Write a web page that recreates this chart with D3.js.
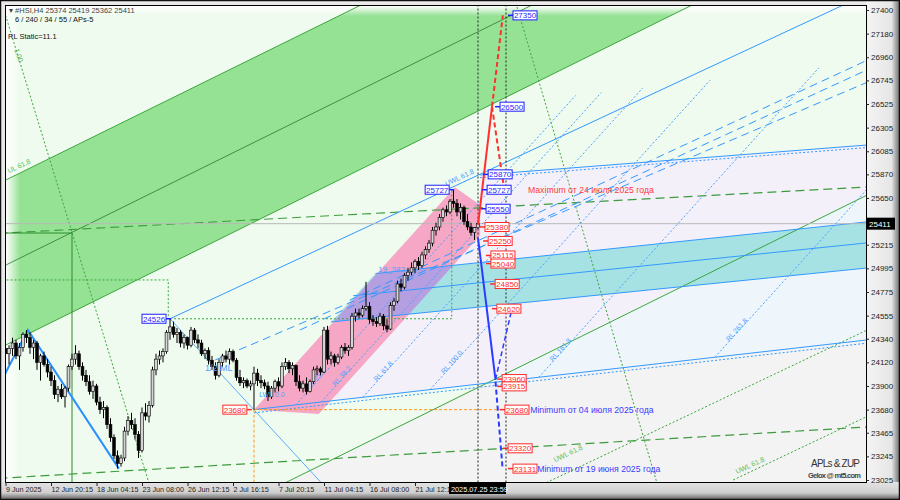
<!DOCTYPE html>
<html><head><meta charset="utf-8">
<script src="https://cdn.jsdelivr.net/npm/d3@7"></script>
<style>body{margin:0;background:#fff}svg{display:block}text{font-family:"Liberation Sans",Arial,sans-serif}</style>
</head><body>
<svg id="c" width="900" height="500"></svg>
<script>
// ---------- DATA ----------
const opens=[24250,24200,24250,24300,24180,24260,24380,24350,24260,24300,
24120,24180,24100,24030,23950,23820,23870,23800,23880,24080,
24150,24200,24080,24000,23940,23850,23900,23750,23680,23700,
23540,23420,23250,23180,23230,23480,23580,23540,23450,23300,
23650,23620,23720,24050,24150,24180,24220,24400,24450,24380,
24400,24300,24350,24280,24420,24330,24300,24200,24230,24140,
24080,24000,24120,24180,24150,24220,24140,23980,23930,23950,
23900,23920,24020,23950,23930,23900,23800,23880,23940,23900,
24080,24120,24060,24090,23940,23880,23920,23850,23940,24050,
24060,24030,24420,24150,24180,24120,24170,24260,24230,24260,
24550,24580,24560,24620,24640,24520,24500,24480,24550,24460,
24430,24650,24690,24850,24820,24930,24960,25000,25060,25020,
25120,25170,25230,25350,25380,25470,25540,25520,25620,25600,
25520,25560,25430,25380,25330,25374];
const highs=[24320,24280,24350,24330,24300,24400,24421,24400,24330,24320,
24200,24220,24150,24080,24000,23900,23920,23900,24100,24200,
24280,24230,24120,24050,24000,23950,23920,23800,23760,23720,
23600,23450,23300,23260,23520,23620,23650,23600,23480,23700,
23740,23760,24080,24200,24230,24250,24420,24526,24500,24440,
24420,24380,24360,24450,24440,24380,24330,24250,24260,24180,
24120,24150,24200,24230,24250,24240,24160,24050,23980,23970,
23950,24080,24060,24000,23960,23940,23900,23960,23980,24120,
24160,24140,24120,24100,24000,23950,23980,23960,24080,24090,
24080,24450,24460,24220,24200,24200,24280,24300,24280,24580,
24620,24620,24650,24870,24680,24560,24540,24580,24570,24520,
24680,24720,24880,24900,24950,25000,25050,25080,25100,25150,
25200,25260,25380,25420,25500,25560,25580,25640,25727,25640,
25600,25580,25500,25420,25380,25419];
const lows=[24150,24100,24180,24150,24050,24220,24300,24200,24150,24050,
23950,24080,23980,23900,23780,23750,23780,23700,23850,24050,
24100,24050,23950,23900,23820,23780,23720,23640,23600,23500,
23380,23220,23131,23150,23200,23440,23500,23400,23230,23280,
23580,23560,23700,24000,24100,24120,24200,24330,24350,24300,
24260,24250,24240,24260,24300,24250,24180,24150,24100,24050,
23960,23980,24080,24120,24100,24120,23950,23900,23880,23880,
23860,23680,23900,23880,23870,23760,23780,23840,23850,23880,
24050,24020,24000,23900,23850,23840,23820,23840,23920,24000,
24000,24020,24100,24100,24080,24100,24150,24200,24180,24240,
24500,24530,24540,24600,24480,24460,24450,24460,24420,24400,
24420,24600,24670,24780,24800,24880,24930,24950,24980,25000,
25080,25140,25200,25300,25350,25430,25480,25500,25560,25480,
25450,25400,25350,25300,25260,25362];
const closes=[24200,24250,24300,24180,24260,24380,24350,24260,24300,24120,
24180,24100,24030,23950,23820,23870,23800,23880,24080,24150,
24200,24080,24000,23940,23850,23900,23750,23680,23700,23540,
23420,23250,23180,23230,23480,23580,23540,23450,23300,23650,
23620,23720,24050,24150,24180,24220,24400,24450,24380,24400,
24300,24350,24280,24420,24330,24300,24200,24230,24140,24080,
24000,24120,24180,24150,24220,24140,23980,23930,23950,23900,
23920,24020,23950,23930,23900,23800,23880,23940,23900,24080,
24120,24060,24090,23940,23880,23920,23850,23940,24050,24060,
24030,24420,24150,24180,24120,24170,24260,24230,24260,24550,
24580,24560,24620,24640,24520,24500,24480,24550,24460,24430,
24650,24690,24850,24820,24930,24960,25000,25060,25020,25120,
25170,25230,25350,25380,25470,25540,25520,25620,25600,25520,
25560,25430,25380,25330,25374,25411];

const timeIdx=[0,13,26,39,52,65,78,91,104,117];
const timeText=["9 Jun 2025","12 Jun 20:15","18 Jun 04:15","23 Jun 08:00","26 Jun 12:15","2 Jul 16:15","7 Jul 20:15","11 Jul 04:15","16 Jul 08:00","21 Jul 12:15"];
const priceTicks=[23025,23245,23465,23680,23900,24120,24340,24555,24775,24995,25215,25650,25870,26085,26305,26525,26745,26960,27180,27400];
const lastPrice=25411;
const header="#HSI,H4  25374 25419 25362 25411";

const boxVals=[27350,26500,25870,25727,25550,25727,24526,25380,25250,25115,25040,24850,24620,23960,23915,23680,23320,23131,23680];
const boxIdx =[145,141.3,137.9,137.6,137.3,119.9,39,137,137.9,138.7,138.7,139.9,140.4,141.9,141.9,142.7,143.6,145,62.1];
const boxKind=["b","b","b","b","b","b","b","r","r","r","r","r","r","r","r","r","r","r","r"];
const boxNudge=[0,0,0,0,0,0,0,0,0,0,0,0,0,-0.5,2,0,0,0,0];

const notes=[{t:"Maximum от 24 июля 2025 года",i:149.3,p:25727,c:"#ff3b3b"},
             {t:"Minimum от 04 июля 2025 года",i:149.9,p:23680,c:"#3b3bff"},
             {t:"Minimum от 19 июня 2025 года",i:151.9,p:23131,c:"#3b3bff"}];

const greenBand=[[-2,25784],[110,27582],[200,27508],[-2,24248]];
const lavender=[[91.8,23758],[136.4,23922],[250,25739],[250,26153],[135.6,25864],[135.6,25324]];
const lightBlue=[[136.4,23922],[250,24343],[250,25739]];
const greyZone=[[136.4,23922],[250,24343],[250,22800],[67.5,22800]];
const pinkCh=[[71,23680],[128.4,25750],[135.6,25585],[135.6,25300],[89.5,23640]];
const tealBand=[[93,24496],[105.7,24947],[250,25441],[250,25011]];

const lines=[
 {p:[[-2,25784],[110,27582]],c:"#3aa63a",w:1},
 {p:[[-2,24248],[200,27508]],c:"#3aa63a",w:1},
 {p:[[-2,24992],[160,27600]],c:"#2a7a2a",w:0.8},
 {p:[[80,23000],[250,25739]],c:"#3aa63a",w:1},
 {p:[[-2,25320],[245.9,25752]],c:"#3c9c3c",w:1.2,d:"9,5"},
 {p:[[-2,23040],[245.9,23518]],c:"#3c9c3c",w:1.2,d:"9,5"},
 {p:[[-2,25324],[19,25324],[19,22900]],c:"#2e8b2e",w:1},
 {p:[[-2,24887],[46.5,24887],[46.5,24526]],c:"#3aa63a",w:1,d:"2,2"},
 {p:[[47,24526],[127.5,24526],[127.5,25727]],c:"#3aa63a",w:1,d:"2,2"},
 {p:[[0,27351],[42,22886]],c:"#3aa63a",w:1,d:"2,2"},
 {p:[[145.5,27500],[187,22900]],c:"#3aa63a",w:1,d:"2,2"},
 {p:[[154.5,23000],[250,24480]],c:"#3aa63a",w:1,d:"2,2"},
 {p:[[207.9,23025],[250,23676]],c:"#3aa63a",w:1,d:"2,2"},
 {p:[[-1,23950],[0.14,24030],[6.4,24421],[32.4,23131]],c:"#2b8fff",w:2},
 {p:[[47,24526],[90,23007]],c:"#3399ff",w:0.8},
 {p:[[47,24526],[250,27608]],c:"#3399ff",w:1},
 {p:[[71,23680],[250,24343]],c:"#3399ff",w:1},
 {p:[[71,23650],[250,24313]],c:"#3399ff",w:1,d:"2,2"},
 {p:[[105.7,24947],[250,25441]],c:"#3399ff",w:1},
 {p:[[99.3,24740],[250,25245]],c:"#3399ff",w:1},
 {p:[[93,24496],[250,25011]],c:"#3399ff",w:1},
 {p:[[135.6,25864],[250,26153]],c:"#3399ff",w:1},
 {p:[[135.6,25840],[250,26129]],c:"#3399ff",w:1,d:"2,2"},
 {p:[[59.9,24142],[250,26780]],c:"#3399ff",w:1,d:"8,5"},
 {p:[[84.1,24421],[250,26900]],c:"#3399ff",w:1,d:"8,5"},
 {p:[[98.4,24700],[250,26990]],c:"#3399ff",w:1,d:"8,5"},
 {p:[[71,23680],[71,22800]],c:"#ff9a1a",w:1,d:"3,2"},
 {p:[[71,23680],[142.7,23680]],c:"#ff9a1a",w:1,d:"3,2"},
 {p:[[135,27600],[135,22800]],c:"#222",w:1,d:"2,2"},
 {p:[[143,27600],[143,22800]],c:"#222",w:1,d:"2,2"},
 {p:[[-2,lastPrice],[250,lastPrice]],c:"#b8b8b8",w:1}
];
const rlLevels=[23.6,38.2,61.8,100,161.8,261.8];
const forecast=[
 {p:[[135,25400],[139,26500]],c:"#ff3030",w:2},
 {p:[[139,26500],[142.1,27350]],c:"#ff3030",w:2,d:"5,3"},
 {p:[[139,26500],[142.5,25727]],c:"#ff3030",w:2,d:"5,3"},
 {p:[[135,25280],[140,23960]],c:"#2a3cff",w:2},
 {p:[[140,23940],[142,23140]],c:"#2a3cff",w:2,d:"5,3"},
 {p:[[140,23960],[144.7,24620]],c:"#2a3cff",w:1.5,d:"5,3"}
];

// ---------- SCALES ----------
const L=6,R=866,T=6,B=482;
const x=d3.scaleLinear().domain([0,245.71]).range([5.5,865.5]);
const y=d3.scaleLinear().domain([23025,27400]).range([480,10]);
const svg=d3.select("#c");
const defs=svg.append("defs");
defs.append("clipPath").attr("id","pc").append("rect").attr("x",L).attr("y",T).attr("width",R-L).attr("height",B-T);
defs.append("clipPath").attr("id","pinkclip").append("path").attr("d",d3.line().x(d=>x(d[0])).y(d=>y(d[1]))(pinkCh)+"Z");
function lg(id,x1,y1,x2,y2,stops){const g=defs.append("linearGradient").attr("id",id).attr("x1",x1).attr("y1",y1).attr("x2",x2).attr("y2",y2);stops.forEach(s=>g.append("stop").attr("offset",s[0]).attr("stop-color",s[1]).attr("stop-opacity",s[2]));}
lg("rg",0,0,1,0,[[0,"#f4f4f4",1],[0.75,"#e6e6e6",1],[1,"#6a6a6a",1]]);
lg("bg",0,0,0,1,[[0,"#e4e4e4",1],[0.6,"#cfcfcf",1],[1,"#5a5a5a",1]]);
lg("lgl",0,0,1,0,[[0,"#ffffff",1],[1,"#ffffff",0]]);
lg("lgt",0,0,0,1,[[0,"#ffffff",1],[1,"#ffffff",0]]);

svg.append("rect").attr("width",900).attr("height",500).attr("fill","#e9e9e9");
svg.append("rect").attr("x",R).attr("y",0).attr("width",900-R).attr("height",500).attr("fill","url(#rg)");
svg.append("rect").attr("x",0).attr("y",B).attr("width",900).attr("height",500-B).attr("fill","url(#bg)");
svg.append("rect").attr("x",0.5).attr("y",0.5).attr("width",899).attr("height",499).attr("fill","none").attr("stroke","#111").attr("stroke-width",1.5);

const g=svg.append("g").attr("clip-path","url(#pc)");
const line=d3.line().x(d=>x(d[0])).y(d=>y(d[1]));
g.append("rect").attr("x",L).attr("y",T).attr("width",R-L).attr("height",B-T).attr("fill","#eefbee");
function poly(pts,fill,extra){const p=g.append("path").attr("d",line(pts)+"Z").attr("fill",fill);if(extra)p.attr("clip-path",extra);return p;}
poly(greenBand,"#95e295");
poly(lavender,"#f4f0fa");
poly(lightBlue,"#eef6fc");
poly(greyZone,"#f3f3f3");
poly(pinkCh,"#f6a7c6");
poly(tealBand,"#a6e2e4");
poly(tealBand,"#b59fe0","url(#pinkclip)");
g.append("rect").attr("x",L).attr("y",T).attr("width",14).attr("height",B-T).attr("fill","url(#lgl)");
g.append("rect").attr("x",L).attr("y",T).attr("width",R-L).attr("height",10).attr("fill","url(#lgt)");

lines.forEach(l=>g.append("path").attr("d",line(l.p)).attr("fill","none").attr("stroke",l.c).attr("stroke-width",l.w).attr("stroke-dasharray",l.d||null));
rlLevels.forEach(k=>{const i0=71+k/100*50.3,p0=23680+3.705*k/100*50.3;
  g.append("path").attr("d",line([[i0,p0],[i0+80,p0+36*80]])).attr("fill","none").attr("stroke","#4aa0ff").attr("stroke-width",1).attr("stroke-dasharray","2,2");
  const tx=x(i0+4),ty=y(p0+36*4);
  g.append("text").attr("x",tx).attr("y",ty).attr("transform",`rotate(-48,${tx},${ty})`).attr("font-size",7).attr("fill","#4aa0ff").text("RL "+(k%1?k:k.toFixed(1)));
});

const cg=g.append("g");
closes.forEach((c,i)=>{const o=opens[i],xi=x(i);
  cg.append("line").attr("x1",xi).attr("x2",xi).attr("y1",y(highs[i])).attr("y2",y(lows[i])).attr("stroke","#000").attr("stroke-width",1);
  const top=y(Math.max(o,c)),h=Math.max(1,Math.abs(y(o)-y(c)));
  cg.append("rect").attr("x",xi-1.4).attr("y",top).attr("width",2.8).attr("height",h).attr("fill",c>=o?"#d4d4d4":"#000").attr("stroke","#000").attr("stroke-width",0.6);
});

forecast.forEach(l=>g.append("path").attr("d",line(l.p)).attr("fill","none").attr("stroke",l.c).attr("stroke-width",l.w).attr("stroke-dasharray",l.d||null));

function lt(t,i,p,c,rot,fs){const tx=x(i),ty=y(p);const e=g.append("text").attr("x",tx).attr("y",ty).attr("font-size",fs||8).attr("fill",c).text(t);if(rot)e.attr("transform",`rotate(${rot},${tx},${ty})`);}
lt("19_382",106.5,24960,"#4aa0ff",0,8);
lt("1/2 ML",57,24040,"#4aa0ff",0,9);
lt("UWL 61.8",126,25760,"#4aa0ff",-25,7);
lt("LWL 0.0",72.5,23800,"#4aa0ff",0,7);
lt("UL 61.8",1,25880,"#5cc05c",-25,7);
lt("1.00",2.5,27030,"#3aa63a",70,7);
lt("UWL 61.8",157,23190,"#5cc05c",-25,7);
lt("UWL 61.8",209,23080,"#5cc05c",-25,7);

boxVals.forEach((v,k)=>{const bx=x(boxIdx[k]),by=y(v)+boxNudge[k],blue=boxKind[k]==="b";
  const col=blue?"#1f1fff":"#ff2a2a";
  const left=bx<x(120);
  g.append("line").attr("x1",left?bx+24:bx-5).attr("x2",left?bx+29:bx).attr("y1",by).attr("y2",by).attr("stroke",col).attr("stroke-width",1.5);
  g.append("rect").attr("x",bx).attr("y",by-4.5).attr("width",24).attr("height",9).attr("fill","#fff").attr("stroke",col).attr("stroke-width",1);
  g.append("text").attr("x",bx+12).attr("y",by+3).attr("text-anchor","middle").attr("font-size",8).attr("fill",col).text(v);
});
notes.forEach(n=>g.append("text").attr("x",x(n.i)).attr("y",y(n.p)+3.5).attr("font-size",8.7).attr("fill",n.c).text(n.t));

g.append("text").attr("x",9).attr("y",13).attr("font-size",7.5).attr("fill","#444").text("▾ "+header);
g.append("text").attr("x",15).attr("y",22).attr("font-size",7.5).attr("fill","#111").text("6 / 240 / 34 / 55 / APs-5");
g.append("text").attr("x",8).attr("y",39).attr("font-size",7.5).attr("fill","#111").text("RL Static=11.1");
g.append("text").attr("x",811).attr("y",467).attr("font-size",10).attr("fill","#333").attr("font-family","Liberation Serif").attr("textLength",49).text("APLs & ZUP");
g.append("text").attr("x",808).attr("y",478).attr("font-size",7.5).attr("fill","#444").attr("font-family","Liberation Serif").attr("font-weight","bold").attr("textLength",53).text("Gelox @ mt5.com");

svg.append("rect").attr("x",L-0.5).attr("y",T-0.5).attr("width",R-L+1).attr("height",B-T+1).attr("fill","none").attr("stroke","#000");

const ay=svg.append("g").attr("transform",`translate(${R},0)`).call(d3.axisRight(y).tickValues(priceTicks).tickSize(3).tickSizeOuter(0).tickFormat(d3.format("d")));
ay.select(".domain").remove();
ay.selectAll("text").attr("font-size",8).attr("fill","#222").attr("x",5).attr("font-family","Liberation Sans");
ay.selectAll("line").attr("stroke","#222");
const ax=svg.append("g").attr("transform",`translate(0,${B})`).call(d3.axisBottom(x).tickValues(timeIdx).tickSize(4).tickSizeOuter(0).tickFormat((d,k)=>timeText[k]));
ax.select(".domain").remove();
ax.selectAll("text").attr("font-size",7.2).attr("fill","#222").attr("text-anchor","start").attr("x",0).attr("y",5).attr("font-family","Liberation Sans");
ax.selectAll("line").attr("stroke","#222");
svg.append("rect").attr("x",R+1).attr("y",y(lastPrice)-6).attr("width",28).attr("height",12).attr("fill","#000");
svg.append("text").attr("x",R+3).attr("y",y(lastPrice)+3).attr("font-size",8).attr("fill","#fff").text(lastPrice);
svg.append("rect").attr("x",x(143)-57).attr("y",B+1).attr("width",57).attr("height",11).attr("fill","#000");
svg.append("text").attr("x",x(143)-55).attr("y",B+9.5).attr("font-size",7.3).attr("fill","#fff").text("2025.07.25 23:59");
</script>
</body></html>
